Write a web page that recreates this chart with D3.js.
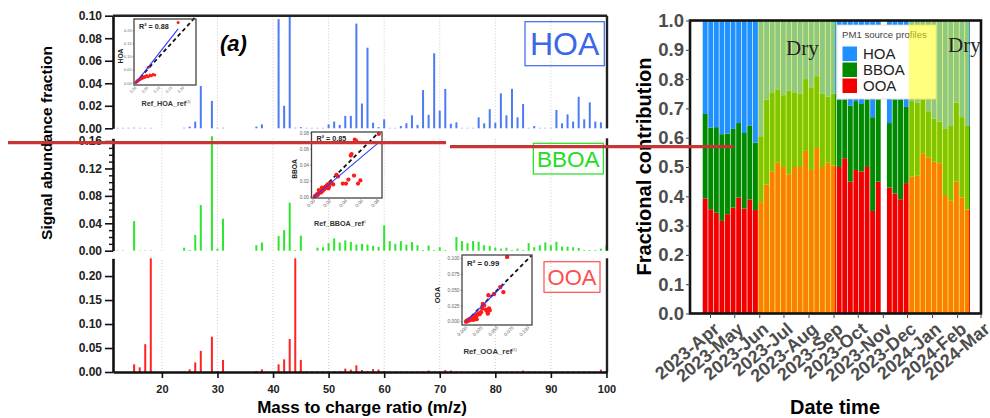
<!DOCTYPE html>
<html>
<head>
<meta charset="utf-8">
<script src="https://cdn.jsdelivr.net/npm/d3@7"></script>
<style>
  body { margin: 0; background: #fff; }
  svg text { font-family: "Liberation Sans", Arial, sans-serif; }
  svg text.dry { font-family: "Liberation Serif", "DejaVu Serif", serif; }
</style>
</head>
<body>
<svg id="fig" width="990" height="418"></svg>
<script>
// ---- panel (a): factor mass spectra, [m/z, signal fraction]
var hoaPeaks = [[12,0.0004],[13,0.0004],[14,0.0004],[15,0.0005],[16,0.0004],[17,0.0004],[18,0.0004],[24,0.0005],[25,0.0015],[26,0.006],[27,0.0376],[29,0.0243],[30,0.0004],[31,0.0005],[37,0.0015],[38,0.0035],[41,0.097],[42,0.020],[43,0.100],[44,0.0005],[45,0.001],[46,0.0004],[47,0.0004],[48,0.0004],[49,0.0004],[50,0.0035],[51,0.006],[52,0.003],[53,0.011],[54,0.011],[55,0.093],[56,0.022],[57,0.0716],[58,0.005],[59,0.001],[60,0.008],[61,0.0004],[62,0.0004],[63,0.002],[64,0.0045],[65,0.0115],[66,0.003],[67,0.034],[68,0.012],[69,0.0666],[70,0.0157],[71,0.035],[72,0.004],[73,0.0053],[74,0.0004],[75,0.0004],[76,0.0004],[77,0.0098],[78,0.0044],[79,0.017],[80,0.005],[81,0.031],[82,0.0115],[83,0.035],[84,0.0098],[85,0.0216],[86,0.0004],[87,0.002],[88,0.0004],[89,0.0004],[90,0.0004],[91,0.0163],[92,0.0044],[93,0.0124],[94,0.006],[95,0.028],[96,0.008],[97,0.023],[98,0.006],[99,0.0053],[100,0.0004]];
var bboaPeaks = [[12,0.0005],[13,0.0005],[15,0.0433],[16,0.0005],[17,0.0005],[18,0.0005],[24,0.0044],[25,0.001],[26,0.023],[27,0.0666],[29,0.167],[30,0.003],[31,0.0467],[37,0.008],[38,0.012],[41,0.0214],[42,0.030],[43,0.070],[44,0.001],[45,0.022],[48,0.0044],[49,0.005],[50,0.011],[51,0.018],[52,0.012],[53,0.015],[54,0.013],[55,0.009],[56,0.010],[57,0.009],[58,0.007],[59,0.0055],[60,0.037],[61,0.014],[62,0.010],[63,0.014],[64,0.009],[65,0.0125],[66,0.008],[67,0.001],[68,0.0075],[69,0.001],[70,0.005],[71,0.001],[73,0.020],[74,0.014],[75,0.011],[76,0.014],[77,0.013],[78,0.008],[79,0.007],[80,0.0044],[81,0.003],[82,0.0044],[83,0.001],[84,0.003],[85,0.001],[86,0.011],[87,0.005],[88,0.008],[89,0.012],[90,0.008],[91,0.013],[92,0.006],[93,0.006],[94,0.005],[95,0.004],[96,0.001],[97,0.001],[98,0.001],[99,0.003],[100,0.008]];
var ooaPeaks = [[12,0.0005],[13,0.0005],[14,0.0005],[15,0.016],[16,0.0097],[17,0.058],[18,0.237],[24,0.001],[25,0.0055],[26,0.020],[27,0.044],[28,0.0005],[29,0.0736],[30,0.001],[31,0.025],[37,0.002],[38,0.0055],[41,0.016],[42,0.0264],[43,0.0688],[44,0.237],[45,0.025],[46,0.001],[47,0.001],[48,0.001],[49,0.001],[50,0.001],[51,0.002],[52,0.002],[53,0.007],[54,0.005],[55,0.014],[56,0.004],[57,0.002],[58,0.006],[59,0.005],[60,0.002],[61,0.001],[62,0.001],[63,0.001],[64,0.001],[65,0.001],[66,0.001],[67,0.001],[68,0.003],[69,0.001],[70,0.001],[71,0.004],[72,0.003],[73,0.001],[74,0.001],[75,0.001],[76,0.001],[77,0.001],[78,0.001],[79,0.001],[80,0.001],[81,0.001],[82,0.001],[83,0.001],[84,0.001],[85,0.003],[86,0.001],[87,0.001],[88,0.001],[89,0.001],[90,0.001],[91,0.001],[92,0.001],[93,0.001],[94,0.001],[95,0.001],[96,0.001],[97,0.001],[98,0.001],[99,0.005],[100,0.001]];

var mzTicks = [20, 30, 40, 50, 60, 70, 80, 90, 100];
var mzGrid = [20, 30, 40, 50, 60, 70, 80, 90];
var hoaTicks = [0, 0.02, 0.04, 0.06, 0.08, 0.10];
var bboaTicks = [0, 0.04, 0.08, 0.12, 0.16];
var bboaMinor = [0.01, 0.02, 0.03, 0.05, 0.06, 0.07, 0.09, 0.10, 0.11, 0.13, 0.14, 0.15];
var ooaTicks = [0, 0.05, 0.10, 0.15, 0.20];

// ---- inset scatter plots: [reference profile, resolved profile]
var hoaScatter = [[0.003,0.002],[0.006,0.004],[0.008,0.007],[0.010,0.006],[0.012,0.010],[0.014,0.009],[0.016,0.013],[0.018,0.012],[0.020,0.016],[0.022,0.014],[0.025,0.019],[0.028,0.017],[0.030,0.022],[0.034,0.020],[0.038,0.025],[0.042,0.022],[0.048,0.028],[0.055,0.024],[0.062,0.030],[0.068,0.027],[0.075,0.032],[0.082,0.030],[0.055,0.060],[0.180,0.232]];
var hoaFit = [[0.003,0.0],[0.18,0.207]];
var bboaScatter = [[0.001,0.001],[0.002,0.002],[0.003,0.002],[0.004,0.004],[0.005,0.003],[0.006,0.005],[0.007,0.006],[0.008,0.008],[0.009,0.006],[0.010,0.009],[0.011,0.008],[0.012,0.011],[0.013,0.010],[0.014,0.013],[0.015,0.012],[0.016,0.014],[0.017,0.016],[0.018,0.011],[0.019,0.013],[0.020,0.017],[0.006,0.009],[0.010,0.012],[0.022,0.018],[0.024,0.016],[0.028,0.028],[0.030,0.026],[0.036,0.017],[0.040,0.017],[0.043,0.022],[0.050,0.027],[0.055,0.017],[0.058,0.021],[0.046,0.052],[0.047,0.054],[0.051,0.072],[0.053,0.070],[0.081,0.079]];
var bboaFit = [[0,0],[0.08,0.0675]];
var ooaScatter = [[0.000,0.000],[0.001,0.001],[0.002,0.001],[0.003,0.002],[0.004,0.003],[0.005,0.002],[0.006,0.004],[0.007,0.003],[0.008,0.005],[0.009,0.006],[0.010,0.004],[0.011,0.007],[0.012,0.008],[0.013,0.006],[0.014,0.009],[0.015,0.010],[0.016,0.008],[0.018,0.011],[0.020,0.013],[0.022,0.012],[0.012,0.003],[0.017,0.004],[0.024,0.015],[0.026,0.021],[0.027,0.028],[0.029,0.026],[0.032,0.019],[0.034,0.017],[0.035,0.013],[0.037,0.021],[0.038,0.018],[0.036,0.042],[0.060,0.047],[0.066,0.103],[0.045,0.044],[0.055,0.055]];
var ooaFit = [[0,0],[0.062,0.060]];

// ---- right panel: weekly fractional contribution (null = no data)
var weeks = ["2023-03-23","2023-03-30","2023-04-06","2023-04-13","2023-04-20","2023-04-27","2023-05-04","2023-05-11","2023-05-18","2023-05-25",
  "2023-06-01","2023-06-08","2023-06-15","2023-06-22","2023-06-29","2023-07-06","2023-07-13","2023-07-20","2023-07-27","2023-08-03","2023-08-10","2023-08-17","2023-08-24","2023-08-31",
  "2023-09-07","2023-09-14","2023-09-21","2023-09-28","2023-10-05","2023-10-12","2023-10-19","2023-10-26",
  "2023-11-02","2023-11-09","2023-11-16","2023-11-23","2023-11-30",
  "2023-12-07","2023-12-14","2023-12-21","2023-12-28","2024-01-04","2024-01-11","2024-01-18","2024-01-25","2024-02-01","2024-02-08","2024-02-15"];
var ooaFrac = [0.393,0.356,0.344,0.316,0.339,0.362,0.396,0.358,0.389,0.353,
  0.38,0.44,0.485,0.515,0.50,0.475,0.50,0.50,0.555,0.49,0.565,0.50,0.515,0.505,
  0.50,0.53,0.45,0.49,0.485,0.50,0.35,0.45,
  null,0.43,0.41,0.39,0.445,
  0.467,0.47,0.547,0.533,0.518,0.513,0.404,0.385,0.45,0.396,0.355];
var bboaFrac = [0.288,0.278,0.292,0.296,0.275,0.268,0.254,0.258,0.253,0.230,
  0.225,0.29,0.27,0.25,0.245,0.285,0.255,0.25,0.245,0.28,0.245,0.25,0.225,0.245,
  0.23,0.20,0.26,0.235,0.23,0.23,0.32,0.28,
  null,0.22,0.32,0.34,0.26,
  0.258,0.25,0.183,0.157,0.147,0.142,0.226,0.255,0.27,0.274,0.285];
var hoaFrac = [0.319,0.366,0.364,0.388,0.386,0.370,0.350,0.384,0.358,0.417,
  0.395,0.27,0.245,0.235,0.255,0.24,0.245,0.25,0.20,0.23,0.19,0.25,0.26,0.25,
  0.27,0.27,0.29,0.275,0.285,0.27,0.33,0.27,
  null,0.35,0.27,0.27,0.295,
  0.275,0.28,0.27,0.31,0.335,0.345,0.37,0.36,0.28,0.33,0.36];
var dryPeriods = [["2023-06-01","2023-08-31"],["2023-12-07","2024-02-15"]];
var fracTicks = [0, 0.1, 0.2, 0.3, 0.4, 0.5, 0.6, 0.7, 0.8, 0.9, 1.0];
var sources = ["OOA", "BBOA", "HOA"];

var svg = d3.select("#fig");

// ======================= left: spectra =======================
var x = d3.scaleLinear().domain([11.2, 100.1]).range([113, 607]);

var panels = [
  {name:"HOA", peaks:hoaPeaks, color:"#4b7cf3", y:d3.scaleLinear().domain([0, 0.1]).range([128.3, 15.7]),
   ticks:hoaTicks, minor:[], box:[525, 21.7, 604.3, 65.7], txt:"#3a68e6", fs:32, base:55},
  {name:"BBOA", peaks:bboaPeaks, color:"#2de62d", y:d3.scaleLinear().domain([0, 0.164]).range([250.7, 138.3]),
   ticks:bboaTicks, minor:bboaMinor, box:[533.3, 143.3, 603.3, 174], txt:"#22dd22", fs:22.5, base:166.5},
  {name:"OOA", peaks:ooaPeaks, color:"#ff2424", y:d3.scaleLinear().domain([0, 0.237]).range([372, 258.3]),
   ticks:ooaTicks, minor:[], box:[544, 261.7, 600, 292.3], txt:"#ff4d4d", fs:22, base:285}
];

panels.forEach(function(p) {
  var g = svg.append("g");
  var y0 = p.y.range()[0], y1 = p.y.range()[1];

  g.selectAll("line.grid")
    .data(mzGrid)
    .enter().append("line")
    .attr("x1", function(d){ return x(d); })
    .attr("x2", function(d){ return x(d); })
    .attr("y1", y0).attr("y2", y1)
    .attr("stroke", "#bdbdbd").attr("stroke-width", 0.8)
    .attr("stroke-dasharray", "1,2");

  g.selectAll("rect.peak")
    .data(p.peaks)
    .enter().append("rect")
    .attr("x", function(d){ return x(d[0]) - 1; })
    .attr("width", 2)
    .attr("y", function(d){ return p.y(d[1]); })
    .attr("height", function(d){ return y0 - p.y(d[1]); })
    .attr("fill", p.color);

  var ax = g.append("g")
    .attr("transform", "translate(113,0)")
    .call(d3.axisLeft(p.y).tickValues(p.ticks).tickSize(8).tickSizeOuter(0).tickPadding(3).tickFormat(d3.format(".2f")));
  ax.select(".domain").attr("stroke", "#111").attr("stroke-width", 2.6);
  ax.selectAll(".tick line").attr("stroke", "#111").attr("stroke-width", 1.6);
  ax.selectAll(".tick text").attr("font-size", 12).attr("font-weight", "bold").attr("fill", "#222");

  if (p.minor.length) {
    var mx = g.append("g")
      .attr("transform", "translate(113,0)")
      .call(d3.axisLeft(p.y).tickValues(p.minor).tickSize(4).tickSizeOuter(0).tickFormat(""));
    mx.select(".domain").remove();
    mx.selectAll(".tick line").attr("stroke", "#111").attr("stroke-width", 1.4);
  }

  g.append("line")
    .attr("x1", 607).attr("x2", 607).attr("y1", y0).attr("y2", y1)
    .attr("stroke", "#222").attr("stroke-width", 2.4);

  g.append("rect")
    .attr("x", p.box[0]).attr("y", p.box[1])
    .attr("width", p.box[2] - p.box[0]).attr("height", p.box[3] - p.box[1])
    .attr("fill", "none").attr("stroke", p.txt).attr("stroke-width", 1.2);
  g.append("text")
    .attr("x", (p.box[0] + p.box[2]) / 2).attr("y", p.base)
    .attr("text-anchor", "middle")
    .attr("font-size", p.fs).attr("fill", p.txt)
    .text(p.name);
});

// top frame of the stacked panels
svg.append("line")
  .attr("x1", 113).attr("x2", 607).attr("y1", 15.7).attr("y2", 15.7)
  .attr("stroke", "#222").attr("stroke-width", 2.4);

var xAx = svg.append("g")
  .attr("transform", "translate(0,372)")
  .call(d3.axisBottom(x).tickValues(mzTicks).tickSize(6).tickSizeOuter(0).tickPadding(7));
xAx.select(".domain").attr("stroke", "#111").attr("stroke-width", 2.6);
xAx.selectAll(".tick line").attr("stroke", "#111").attr("stroke-width", 1.6);
xAx.selectAll(".tick text").attr("font-size", 11).attr("font-weight", "bold").attr("fill", "#222");

svg.append("text")
  .attr("x", 362).attr("y", 413)
  .attr("text-anchor", "middle")
  .attr("font-size", 17).attr("font-weight", "bold")
  .text("Mass to charge ratio (m/z)");

svg.append("text")
  .attr("transform", "translate(52,143) rotate(-90)")
  .attr("text-anchor", "middle")
  .attr("font-size", 15.5).attr("font-weight", "bold")
  .text("Signal abundance fraction");

svg.append("text")
  .attr("x", 220).attr("y", 51)
  .attr("font-size", 22).attr("font-weight", "bold").attr("font-style", "italic")
  .text("(a)");

// ----- insets
function inset(c) {
  var g = svg.append("g");
  var sx = d3.scaleLinear().domain(c.xd).range([c.box[0], c.box[2]]);
  var sy = d3.scaleLinear().domain(c.yd).range([c.box[3], c.box[1]]);
  var fmt = d3.format(c.fmt);

  g.append("rect")
    .attr("x", c.box[0]).attr("y", c.box[1])
    .attr("width", c.box[2] - c.box[0]).attr("height", c.box[3] - c.box[1])
    .attr("fill", "#fff");

  g.selectAll("text.yt")
    .data(c.ticks)
    .enter().append("text")
    .attr("x", c.box[0] - 2.5)
    .attr("y", function(d){ return sy(d) + 1.6; })
    .attr("text-anchor", "end")
    .attr("font-size", c.tfs).attr("fill", "#666")
    .text(fmt);
  g.selectAll("line.yt")
    .data(c.ticks)
    .enter().append("line")
    .attr("x1", c.box[0] - 1.5).attr("x2", c.box[0])
    .attr("y1", function(d){ return sy(d); }).attr("y2", function(d){ return sy(d); })
    .attr("stroke", "#666").attr("stroke-width", 0.6);
  g.selectAll("text.xt")
    .data(c.ticks)
    .enter().append("text")
    .attr("transform", function(d){ return "translate(" + (sx(d) + 1.5) + "," + (c.box[3] + 3) + ") rotate(-45)"; })
    .attr("text-anchor", "end")
    .attr("font-size", c.tfs).attr("fill", "#666")
    .text(fmt);

  g.append("line")
    .attr("x1", sx(0)).attr("y1", sy(0))
    .attr("x2", sx(c.one)).attr("y2", sy(c.one))
    .attr("stroke", "#111").attr("stroke-width", 1.8)
    .attr("stroke-dasharray", "4,3");

  g.selectAll("circle")
    .data(c.pts)
    .enter().append("circle")
    .attr("cx", function(d){ return sx(d[0]); })
    .attr("cy", function(d){ return sy(d[1]); })
    .attr("r", c.r)
    .attr("fill", "#ff1a1a");

  g.append("line")
    .attr("x1", sx(c.fit[0][0])).attr("y1", sy(c.fit[0][1]))
    .attr("x2", sx(c.fit[1][0])).attr("y2", sy(c.fit[1][1]))
    .attr("stroke", "#2f3cff").attr("stroke-width", 1.1);

  g.append("rect")
    .attr("x", c.box[0]).attr("y", c.box[1])
    .attr("width", c.box[2] - c.box[0]).attr("height", c.box[3] - c.box[1])
    .attr("fill", "none").attr("stroke", "#444").attr("stroke-width", 1.3);

  g.append("text")
    .attr("x", c.box[0] + 5).attr("y", c.box[1] + c.r2dy)
    .attr("font-size", c.lfs).attr("font-weight", "bold").attr("fill", "#222")
    .text(c.r2);
  g.append("text")
    .attr("transform", "translate(" + c.ylab[0] + "," + c.ylab[1] + ") rotate(-90)")
    .attr("text-anchor", "middle")
    .attr("font-size", c.lfs - 0.5).attr("font-weight", "bold").attr("fill", "#222")
    .text(c.yname);
  var t = g.append("text")
    .attr("x", c.xlab[0]).attr("y", c.xlab[1])
    .attr("text-anchor", "middle")
    .attr("font-size", c.lfs).attr("font-weight", "bold").attr("fill", "#333")
    .text(c.xname);
  t.append("tspan").attr("dy", -3).attr("font-size", 3.5).attr("fill", "#888").text(c.sup);
}

inset({box:[134, 19, 196, 85], xd:[-0.005, 0.255], yd:[-0.008, 0.245], ticks:[0, 0.05, 0.10, 0.15, 0.20], fmt:".2f",
  pts:hoaScatter, fit:hoaFit, one:0.25, r:1.5, tfs:3.8, lfs:7.2, r2dy:10, r2:"R\u00b2 = 0.88",
  yname:"HOA", ylab:[123, 56], xname:"Ref_HOA_ref", xlab:[166, 106], sup:"(1)"});
inset({box:[311.5, 132, 382, 198], xd:[-0.0031, 0.085], yd:[-0.001, 0.0815], ticks:[0, 0.02, 0.04, 0.06, 0.08], fmt:".2f",
  pts:bboaScatter, fit:bboaFit, one:0.081, r:2.1, tfs:4.8, lfs:7.2, r2dy:9, r2:"R\u00b2 = 0.85",
  yname:"BBOA", ylab:[297, 169], xname:"Ref_BBOA_ref", xlab:[340, 226], sup:"1"});
inset({box:[462, 255, 532, 325], xd:[-0.0065, 0.106], yd:[-0.0053, 0.106], ticks:[0, 0.025, 0.05, 0.075, 0.1], fmt:".3f",
  pts:ooaScatter, fit:ooaFit, one:0.105, r:2.2, tfs:4.8, lfs:7.8, r2dy:11, r2:"R\u00b2 = 0.99",
  yname:"OOA", ylab:[440, 295], xname:"Ref_OOA_ref", xlab:[490, 354], sup:"(1)"});

// ======================= right: fractional contribution =======================
var xb = d3.scaleBand().domain(weeks).range([702.7, 970]).paddingInner(0.12);
var yr = d3.scaleLinear().domain([0, 1]).range([313.5, 20.5]);
var xt = d3.scaleTime().domain([new Date(2023, 3, 1), new Date(2024, 2, 1)]).range([710.5, 981]);
var srcColor = {OOA:"#f20000", BBOA:"#008a00", HOA:"#1e90ff"};

var rows = weeks.map(function(w, i) {
  return {week:w, OOA:ooaFrac[i], BBOA:bboaFrac[i], HOA:hoaFrac[i]};
}).filter(function(d){ return d.OOA !== null; });
var series = d3.stack().keys(sources)(rows);

var rg = svg.append("g");
rg.selectAll("g.layer")
  .data(series)
  .enter().append("g")
  .attr("fill", function(s){ return srcColor[s.key]; })
  .selectAll("rect")
  .data(function(s){ return s; })
  .enter().append("rect")
  .attr("x", function(d){ return xb(d.data.week); })
  .attr("width", xb.bandwidth())
  .attr("y", function(d){ return yr(d[1]); })
  .attr("height", function(d){ return yr(d[0]) - yr(d[1]); });

// legend (drawn before the dry-season shading, which lies over it)
var lg = svg.append("g").attr("transform", "translate(837,25)");
lg.append("rect").attr("width", 99).attr("height", 74)
  .attr("fill", "#fff").attr("stroke", "#d8d8d8").attr("stroke-width", 0.8);
lg.append("text").attr("x", 5).attr("y", 12.5)
  .attr("font-size", 9.6).attr("fill", "#444").text("PM1 source profiles");
var items = sources.slice().reverse();
lg.selectAll("rect.key")
  .data(items)
  .enter().append("rect")
  .attr("x", 5.5).attr("y", function(d, i){ return 21.5 + i * 16; })
  .attr("width", 14.5).attr("height", 14.5)
  .attr("fill", function(d){ return srcColor[d]; });
lg.selectAll("text.key")
  .data(items)
  .enter().append("text")
  .attr("x", 26).attr("y", function(d, i){ return 34 + i * 16; })
  .attr("font-size", 15).attr("fill", "#222")
  .text(function(d){ return d; });

// dry season shading
var pad = xb.step() - xb.bandwidth();
svg.selectAll("rect.dry")
  .data(dryPeriods)
  .enter().append("rect")
  .attr("x", function(d){ return xb(d[0]) - pad / 2; })
  .attr("width", function(d){ return xb(d[1]) + xb.bandwidth() - xb(d[0]) + pad / 2 - 0.8; })
  .attr("y", yr(1)).attr("height", yr(0) - yr(1))
  .attr("fill", "#ffff00").attr("fill-opacity", 0.5);
svg.selectAll("text.dry")
  .data(dryPeriods)
  .enter().append("text")
  .attr("class", "dry")
  .attr("x", function(d, i){ return i === 0 ? 786 : 948; })
  .attr("y", function(d, i){ return i === 0 ? 55 : 52; })
  .attr("font-size", 21).attr("fill", "#222")
  .text("Dry");

// frame and axes
svg.append("rect")
  .attr("x", 690).attr("y", 20.5).attr("width", 291).attr("height", 293)
  .attr("fill", "none").attr("stroke", "#111").attr("stroke-width", 2.6);

var yAx = svg.append("g")
  .attr("transform", "translate(690,0)")
  .call(d3.axisLeft(yr).tickValues(fracTicks).tickSize(4).tickSizeOuter(0).tickPadding(2).tickFormat(d3.format(".1f")));
yAx.select(".domain").remove();
yAx.selectAll(".tick line").attr("stroke", "#444");
yAx.selectAll(".tick text").attr("font-size", 18.5).attr("font-weight", "bold").attr("fill", "#4d4d4d");

var months = d3.timeMonth.range(new Date(2023, 3, 1), new Date(2024, 2, 2));
var tg = svg.append("g");
tg.selectAll("line")
  .data(months)
  .enter().append("line")
  .attr("x1", function(d){ return xt(d); }).attr("x2", function(d){ return xt(d); })
  .attr("y1", 313.5).attr("y2", 318)
  .attr("stroke", "#444");
tg.selectAll("text")
  .data(months)
  .enter().append("text")
  .attr("transform", function(d){ return "translate(" + (xt(d) + 10) + ",331) rotate(-40)"; })
  .attr("text-anchor", "end")
  .attr("font-size", 18).attr("font-weight", "bold").attr("fill", "#4d4d4d")
  .text(d3.timeFormat("%Y-%b"));

svg.append("text")
  .attr("x", 835).attr("y", 414)
  .attr("text-anchor", "middle")
  .attr("font-size", 20).attr("font-weight", "bold")
  .text("Date time");
svg.append("text")
  .attr("transform", "translate(651,166.5) rotate(-90)")
  .attr("text-anchor", "middle")
  .attr("font-size", 20).attr("font-weight", "bold")
  .text("Fractional contribution");

// red guide strokes across the figure
svg.append("line").attr("x1", 8).attr("x2", 446).attr("y1", 142.7).attr("y2", 142.7)
  .attr("stroke", "#c83535").attr("stroke-width", 3.3);
svg.append("line").attr("x1", 450).attr("x2", 733.5).attr("y1", 146.7).attr("y2", 146.7)
  .attr("stroke", "#c83535").attr("stroke-width", 3.3);
</script>
</body>
</html>
